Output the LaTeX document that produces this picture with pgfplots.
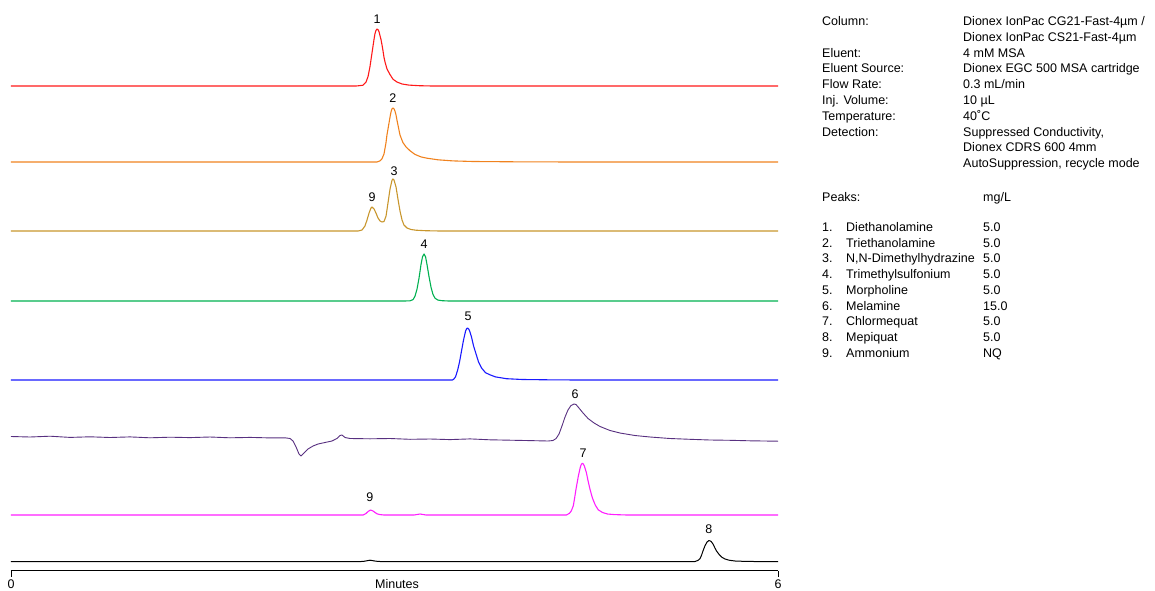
\documentclass[border=0pt]{standalone}
\usepackage{fontspec}
\setmainfont{Liberation Sans}
\usepackage{pgfplots}
\pgfplotsset{compat=1.18}

\definecolor{tr1}{RGB}{255,25,25}
\definecolor{tr2}{RGB}{240,130,30}
\definecolor{tr3}{RGB}{200,150,45}
\definecolor{tr4}{RGB}{0,176,80}
\definecolor{tr5}{RGB}{25,25,255}
\definecolor{tr6}{RGB}{88,48,128}
\definecolor{tr7}{RGB}{255,30,255}
\definecolor{tr8}{RGB}{0,0,0}

\newcommand{\txt}{\fontsize{12.5}{15}\selectfont}
\tikzset{peak/.style={font=\txt, inner sep=0pt, anchor=center}}

\begin{document}
\begin{tikzpicture}
\useasboundingbox (0,0) rectangle (1155pt,590pt);
\begin{axis}[
  at={(11pt,19.5pt)}, anchor=south west,
  scale only axis, width=767pt, height=570.5pt,
  xmin=0, xmax=6, ymin=19.5, ymax=590,
  axis x line=bottom, axis y line=none,
  axis line style={-, line width=0.8pt},
  xtick={0,6}, xtick align=outside, major tick length=6pt,
  tick style={line width=0.8pt, black},
  xticklabel style={font=\txt},
  /pgf/number format/assume math mode=true,
  xlabel={Minutes},
  xlabel style={font=\txt, inner sep=0pt, at={(axis description cs:0.5,0)}, anchor=center, yshift=-14pt, xshift=2.5pt},
  clip=false,
  every axis plot/.append style={line width=1.1pt, line join=round},
]
% 1 Diethanolamine
\addplot[tr1] coordinates {
 (0,504) (2.700,504) (2.753,504.7) (2.777,507.9) (2.793,513.4) (2.808,523.2)
 (2.820,533.6) (2.832,543.9) (2.840,550.8) (2.847,556.2) (2.855,559.6) (2.863,561)
 (2.871,560.3) (2.879,558.2) (2.894,550.7) (2.902,545.3)
 (2.910,539.3) (2.918,532.5) (2.926,527.9) (2.941,521.1) (2.965,515.4) (2.988,510.8)
 (3.019,508.0) (3.059,506.0) (3.113,504.9) (3.192,504.3) (3.293,504) (6,504)};
% 2 Triethanolamine
\addplot[tr2] coordinates {
 (0,428) (2.863,428) (2.886,429.1) (2.902,431.2) (2.918,436.1) (2.933,446.9)
 (2.941,455) (2.957,466.9) (2.965,473.0) (2.972,477.7) (2.980,481.0) (2.988,482)
 (2.996,481.2) (3.004,478.8) (3.012,475.0) (3.019,470.1) (3.031,462.5)
 (3.043,455) (3.066,447.4) (3.090,443.1) (3.121,439.3) (3.160,435.6) (3.207,433.1)
 (3.254,431.8) (3.340,430.2) (3.457,429.1) (3.614,428.5) (3.927,428.2) (4.396,428) (6,428)};
% 9 Ammonium + 3 N,N-Dimethylhydrazine
\addplot[tr3] coordinates {
 (0,359) (2.715,359) (2.746,360) (2.769,364) (2.785,370) (2.801,377) (2.816,382)
 (2.824,383) (2.840,381) (2.855,377) (2.871,372) (2.887,369) (2.902,368) (2.918,368.5)
 (2.934,374) (2.949,387) (2.965,401) (2.981,410) (2.988,411) (2.996,410) (3.012,403)
 (3.027,391) (3.043,379) (3.059,370) (3.074,365) (3.098,362) (3.129,360.5) (3.168,359.8)
 (3.239,359.3) (3.356,359) (6,359)};
% 4 Trimethylsulfonium
\addplot[tr4] coordinates {
 (0,289) (3.080,289) (3.121,289.2) (3.145,290.4) (3.160,293.7) (3.176,300.8)
 (3.192,312) (3.207,325.2) (3.219,333.2) (3.231,336) (3.243,333.2) (3.254,325.7)
 (3.270,313.4) (3.286,302.6) (3.301,295.6) (3.317,291.8) (3.340,289.9) (3.372,289.3)
 (3.426,289) (6,289)};
% 5 Morpholine
\addplot[tr5] coordinates {
 (0,210) (3.454,210) (3.466,211.2) (3.477,213.1) (3.493,219.4) (3.509,228.2) (3.520,236)
 (3.540,250) (3.556,258.9) (3.563,261.0) (3.571,262) (3.579,261.2) (3.587,259.4)
 (3.602,253.2) (3.618,244.3)
 (3.638,236) (3.657,228.2) (3.681,222) (3.712,217.3) (3.747,215.2) (3.790,213.1)
 (3.876,211.3) (4.001,210.5) (4.197,210.2) (4.432,210) (6,210)};
% 6 Melamine
\addplot[tr6, line width=0.9pt] coordinates {
 (0,153.5) (0.149,153.0) (0.305,153.8) (0.462,152.6) (0.618,153.2) (0.774,152.5)
 (0.931,153.1) (1.087,152.2) (1.244,152.8) (1.400,152.4) (1.557,153.0) (1.713,152.2)
 (1.870,152.6) (2.026,152.1) (2.143,152.2) (2.183,151.5) (2.206,149) (2.230,143)
 (2.253,136) (2.269,134) (2.292,137) (2.323,141) (2.363,144) (2.402,146) (2.456,147.5)
 (2.511,149) (2.550,151.5) (2.574,154.5) (2.589,155) (2.613,152.5) (2.652,151.5)
 (2.808,151.2) (2.965,151.5) (3.121,150.7) (3.278,151) (3.434,150.4) (3.591,151.1)
 (3.747,150.2) (3.904,149.8) (4.060,149.4) (4.201,149) (4.240,149.5) (4.264,151.5)
 (4.287,156) (4.310,164) (4.334,173) (4.357,180) (4.381,184.5) (4.404,186)
 (4.420,185.5) (4.443,182) (4.475,177) (4.514,171.5) (4.561,167) (4.608,163.5)
 (4.686,159.5) (4.764,157) (4.881,154.5) (4.999,153) (5.155,151.5) (5.312,150.7)
 (5.468,150) (5.625,149.7) (5.781,149.2) (6.000,148.8)};
% 9 Ammonium + 7 Chlormequat
\addplot[tr7] coordinates {
 (0,75) (2.720,75) (2.754,75) (2.777,76.5) (2.793,78.5) (2.812,80) (2.832,79)
 (2.848,77.5) (2.863,76.2) (2.887,75.4) (2.918,75) (3.153,75) (3.200,76) (3.247,75)
 (4.344,75) (4.368,76.6) (4.383,79.1) (4.399,84.3) (4.411,93.6) (4.420,100.9)
 (4.438,113.8) (4.454,123.1) (4.462,125.8) (4.469,126.7) (4.477,126.0) (4.485,124.1)
 (4.501,117.4) (4.516,108.1)
 (4.529,100.9) (4.548,92.1) (4.571,84.8) (4.594,80.2) (4.626,77.6) (4.665,76)
 (4.720,75.4) (4.821,75) (6,75)};
% 8 Mepiquat
\addplot[tr8, line width=1.0pt] coordinates {
 (0,28.5) (2.740,28.5) (2.761,28.7) (2.808,29.8) (2.855,28.8) (2.887,28.5) (5.330,28.5)
 (5.351,28.5) (5.374,29.6) (5.390,31.4) (5.402,34.8) (5.413,39.0) (5.429,44.3)
 (5.445,48.0) (5.460,49.5) (5.476,48.7) (5.492,45.9) (5.507,41.9) (5.519,39.0)
 (5.539,35.6) (5.562,32.7) (5.586,31.0) (5.617,29.8) (5.664,29.0) (5.726,28.7)
 (5.812,28.5) (6,28.5)};

% peak numbers
\node[peak] at (axis cs:2.863,571) {1};
\node[peak] at (axis cs:2.988,492) {2};
\node[peak] at (axis cs:2.824,393) {9};
\node[peak] at (axis cs:2.996,419) {3};
\node[peak] at (axis cs:3.231,346) {4};
\node[peak] at (axis cs:3.575,274) {5};
\node[peak] at (axis cs:4.412,196) {6};
\node[peak] at (axis cs:4.475,137) {7};
\node[peak] at (axis cs:2.808,93) {9};
\node[peak] at (axis cs:5.460,61) {8};
\end{axis}

% method conditions
\begin{scope}[every node/.style={anchor=base west, inner sep=0pt, font=\txt}]
\node at (822pt,564.5pt) {Column:};
\node at (963pt,564.5pt) {Dionex IonPac CG21-Fast-4µm /};
\node at (963pt,548.7pt) {Dionex IonPac CS21-Fast-4µm};
\node at (822pt,532.9pt) {Eluent:};
\node at (963pt,532.9pt) {4 mM MSA};
\node at (822pt,517.1pt) {Eluent Source:};
\node at (963pt,517.1pt) {Dionex EGC 500 MSA cartridge};
\node at (822pt,501.3pt) {Flow Rate:};
\node at (963pt,501.3pt) {0.3 mL/min};
\node at (822pt,485.5pt) {Inj. Volume:};
\node at (963pt,485.5pt) {10 µL};
\node at (822pt,469.7pt) {Temperature:};
\node at (963pt,469.7pt) {40˚C};
\node at (822pt,453.9pt) {Detection:};
\node at (963pt,453.9pt) {Suppressed Conductivity,};
\node at (963pt,438.1pt) {Dionex CDRS 600 4mm};
\node at (963pt,422.3pt) {AutoSuppression, recycle mode};

\node at (822pt,388.5pt) {Peaks:};
\node at (983pt,388.5pt) {mg/L};

\node at (822pt,358.5pt) {1.};  \node at (846pt,358.5pt) {Diethanolamine};         \node at (983pt,358.5pt) {5.0};
\node at (822pt,342.8pt) {2.};  \node at (846pt,342.8pt) {Triethanolamine};        \node at (983pt,342.8pt) {5.0};
\node at (822pt,327.1pt) {3.};  \node at (846pt,327.1pt) {N,N-Dimethylhydrazine};  \node at (983pt,327.1pt) {5.0};
\node at (822pt,311.4pt) {4.};  \node at (846pt,311.4pt) {Trimethylsulfonium};     \node at (983pt,311.4pt) {5.0};
\node at (822pt,295.7pt) {5.};  \node at (846pt,295.7pt) {Morpholine};             \node at (983pt,295.7pt) {5.0};
\node at (822pt,280.0pt) {6.};  \node at (846pt,280.0pt) {Melamine};               \node at (983pt,280.0pt) {15.0};
\node at (822pt,264.3pt) {7.};  \node at (846pt,264.3pt) {Chlormequat};            \node at (983pt,264.3pt) {5.0};
\node at (822pt,248.6pt) {8.};  \node at (846pt,248.6pt) {Mepiquat};               \node at (983pt,248.6pt) {5.0};
\node at (822pt,232.9pt) {9.};  \node at (846pt,232.9pt) {Ammonium};               \node at (983pt,232.9pt) {NQ};
\end{scope}
\end{tikzpicture}
\end{document}
